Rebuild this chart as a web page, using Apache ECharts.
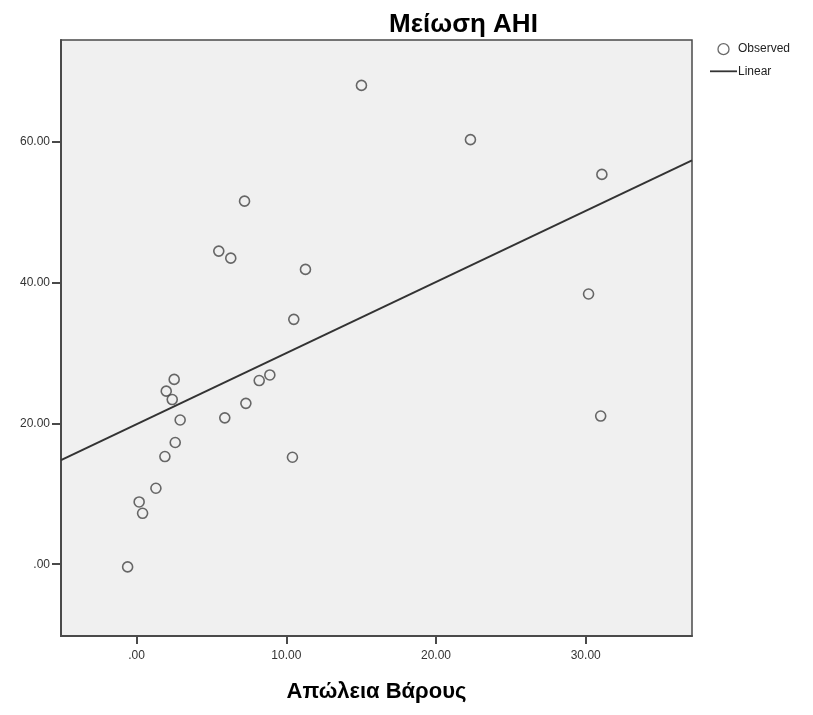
<!DOCTYPE html>
<html>
<head>
<meta charset="utf-8">
<script src="https://cdn.jsdelivr.net/npm/echarts@6/dist/echarts.min.js"></script>
<style>
  html, body { margin: 0; padding: 0; background: #ffffff; }
  #chart { width: 813px; height: 715px; }
</style>
</head>
<body>
<div id="chart"></div>
<script>
// Weight loss (x) vs AHI reduction (y), observed cases
const weightLoss = [
  15.02, 22.3, 31.08, 7.21, 5.49, 6.29, 11.28, 30.19, 10.5,
  2.51, 1.98, 2.38, 2.91, 2.58, 1.89, 1.29, 0.17, 0.40, -0.60,
  5.89, 7.30, 8.19, 8.90, 10.41, 31.0
];
const ahiReduction = [
  68.05, 60.34, 55.4, 51.6, 44.5, 43.5, 41.9, 38.4, 34.8,
  26.27, 24.6, 23.4, 20.5, 17.3, 15.3, 10.8, 8.85, 7.24, -0.38,
  20.8, 22.86, 26.1, 26.9, 15.2, 21.06
];

// Linear fit, evaluated at both ends of the x range
const fitX = [-5.05, 37.1];
const fitY = [14.8, 57.4];

// Axis ticks and their labels
const xTicks = [0, 10, 20, 30];
const xTickLabels = ['.00', '10.00', '20.00', '30.00'];
const yTicks = [0, 20, 40, 60];
const yTickLabels = ['.00', '20.00', '40.00', '60.00'];

const xRange = [-5.05, 37.1];
const yRange = [-10.2, 74.5];

const observed = weightLoss.map((x, i) => [x, ahiReduction[i]]);
const linear = fitX.map((x, i) => [x, fitY[i]]);

const FONT = '"Liberation Sans", Arial, sans-serif';
const AXIS_COLOR = '#4a4a4a';

const chart = echarts.init(document.getElementById('chart'), null, { renderer: 'canvas' });

chart.setOption({
  animation: false,
  backgroundColor: '#ffffff',
  title: {
    text: 'Μείωση AHI',
    left: 384,
    top: 7,
    textStyle: { fontFamily: FONT, fontSize: 26, fontWeight: 'bold', color: '#000000' }
  },
  legend: {
    orient: 'vertical',
    left: 705,
    top: 38,
    itemWidth: 27,
    itemHeight: 11,
    itemGap: 10,
    textStyle: { fontFamily: FONT, fontSize: 12, color: '#222222', padding: [0, 0, 0, -4] },
    data: [
      {
        name: 'Observed',
        icon: 'circle',
        itemStyle: { color: 'transparent', borderColor: '#444444', borderWidth: 1.3 }
      },
      {
        name: 'Linear',
        icon: 'path://M0,0H30V2H0Z',
        itemStyle: { color: '#333333' }
      }
    ]
  },
  grid: {
    left: 61,
    right: 121,
    top: 40,
    bottom: 79,
    show: true,
    backgroundColor: '#f0f0f0',
    borderColor: AXIS_COLOR,
    borderWidth: 1.5
  },
  xAxis: {
    type: 'value',
    min: xRange[0],
    max: xRange[1],
    name: 'Απώλεια Βάρους',
    nameLocation: 'middle',
    nameGap: 45,
    nameTextStyle: { fontFamily: FONT, fontSize: 22, fontWeight: 'bold', color: '#000000' },
    splitLine: { show: false },
    axisLine: { show: true, onZero: false, lineStyle: { color: AXIS_COLOR, width: 2 } },
    axisTick: {
      show: true,
      length: 8,
      customValues: xTicks,
      lineStyle: { color: AXIS_COLOR, width: 2 }
    },
    axisLabel: {
      customValues: xTicks,
      margin: 14,
      fontFamily: FONT,
      fontSize: 12,
      color: '#333333',
      formatter: v => xTickLabels[xTicks.indexOf(Math.round(v))] || ''
    }
  },
  yAxis: {
    type: 'value',
    min: yRange[0],
    max: yRange[1],
    splitLine: { show: false },
    axisLine: { show: true, onZero: false, lineStyle: { color: AXIS_COLOR, width: 2 } },
    axisTick: {
      show: true,
      length: 9,
      customValues: yTicks,
      lineStyle: { color: AXIS_COLOR, width: 2 }
    },
    axisLabel: {
      customValues: yTicks,
      margin: 11,
      fontFamily: FONT,
      fontSize: 12,
      color: '#333333',
      formatter: v => yTickLabels[yTicks.indexOf(Math.round(v))] || ''
    }
  },
  series: [
    {
      name: 'Observed',
      type: 'scatter',
      data: observed,
      symbol: 'circle',
      symbolSize: 10,
      itemStyle: { color: 'transparent', borderColor: '#444444', borderWidth: 1.6 },
      z: 3
    },
    {
      name: 'Linear',
      type: 'line',
      data: linear,
      showSymbol: false,
      symbol: 'none',
      lineStyle: { color: '#333333', width: 2 },
      z: 2
    }
  ]
});
</script>
</body>
</html>
